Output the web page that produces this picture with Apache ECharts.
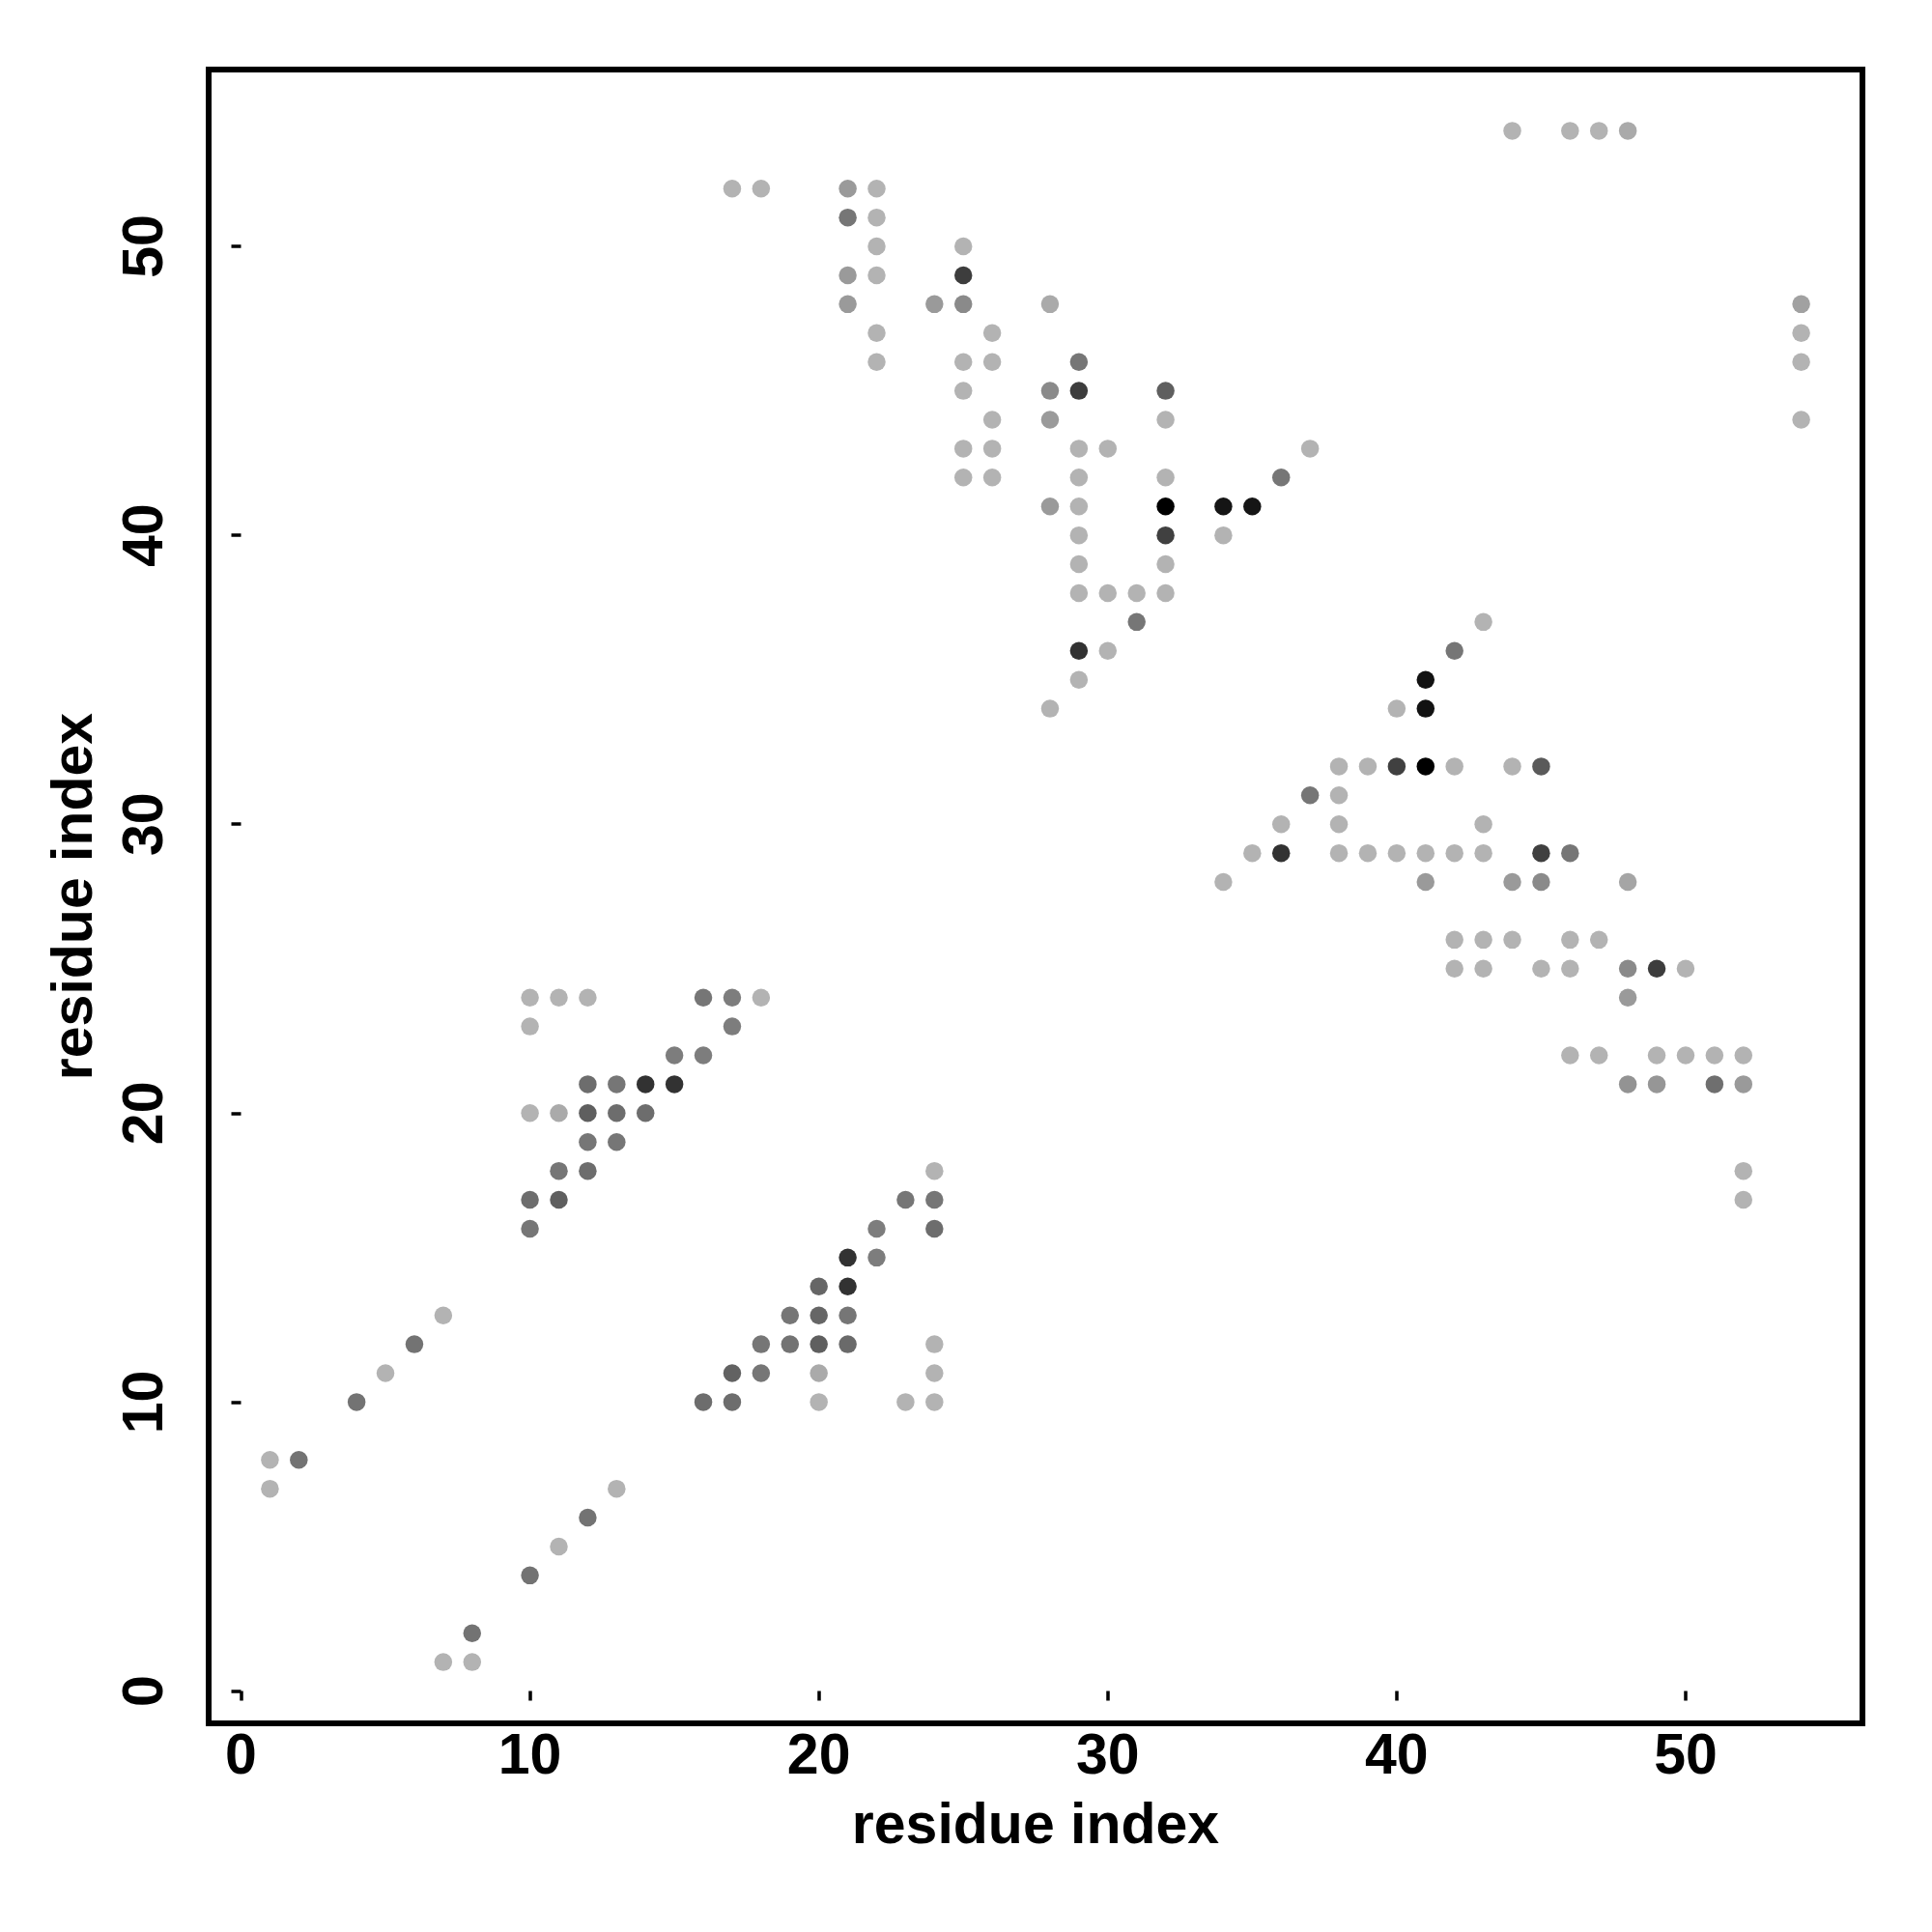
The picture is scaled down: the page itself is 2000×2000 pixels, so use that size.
<!DOCTYPE html>
<html>
<head>
<meta charset="utf-8">
<script src="https://cdn.jsdelivr.net/npm/echarts@6/dist/echarts.min.js"></script>
<style>html,body{margin:0;padding:0;background:#fff}#chart{width:2000px;height:2000px}</style>
</head>
<body>
<div id="chart"></div>
<script>
// residue i (x), residue j (y), contact strength (0 = faint, 1 = strongest)
const residueI = [
  44,46,47,48,
  17,18,21,22,
  21,22,
  22,25,
  21,22,25,
  21,24,25,28,54,
  22,26,54,
  22,25,26,29,54,
  25,28,29,32,
  26,28,32,54,
  25,26,29,30,37,
  25,26,29,32,36,
  28,29,32,34,35,
  29,32,34,
  29,32,
  29,30,31,32,
  31,43,
  29,30,42,
  29,41,
  28,40,41,
  38,39,40,41,42,44,45,
  37,38,
  36,38,43,
  35,36,38,39,40,41,42,43,45,46,
  34,41,44,45,48,
  42,43,44,46,47,
  42,43,45,46,48,49,50,
  10,11,12,16,17,18,48,
  10,17,
  15,16,46,47,49,50,51,52,
  12,13,14,15,48,49,51,52,
  10,11,12,13,14,
  12,13,
  11,12,24,52,
  10,11,23,24,52,
  10,22,24,
  21,22,
  20,21,
  7,19,20,21,
  6,18,19,20,21,24,
  5,17,18,20,24,
  4,16,17,20,23,24,
  1,2,
  1,13,
  12,
  11,
  10,
  8,
  7,8
];
const residueJ = [
  54,54,54,54,
  52,52,52,52,
  51,51,
  50,50,
  49,49,49,
  48,48,48,48,48,
  47,47,47,
  46,46,46,46,46,
  45,45,45,45,
  44,44,44,44,
  43,43,43,43,43,
  42,42,42,42,42,
  41,41,41,41,41,
  40,40,40,
  39,39,
  38,38,38,38,
  37,37,
  36,36,36,
  35,35,
  34,34,34,
  32,32,32,32,32,32,32,
  31,31,
  30,30,30,
  29,29,29,29,29,29,29,29,29,29,
  28,28,28,28,28,
  26,26,26,26,26,
  25,25,25,25,25,25,25,
  24,24,24,24,24,24,24,
  23,23,
  22,22,22,22,22,22,22,22,
  21,21,21,21,21,21,21,21,
  20,20,20,20,20,
  19,19,
  18,18,18,18,
  17,17,17,17,17,
  16,16,16,
  15,15,
  14,14,
  13,13,13,13,
  12,12,12,12,12,12,
  11,11,11,11,11,
  10,10,10,10,10,10,
  8,8,
  7,7,
  6,
  5,
  4,
  2,
  1,1
];
const strength = [
  0,0,0,0.05,
  0,0,0.14,0,
  0.34,0,
  0,0,
  0.14,0,0.66,
  0.14,0.14,0.23,0.05,0.1,
  0,0,0,
  0,0,0,0.34,0,
  0,0.23,0.66,0.47,
  0,0.14,0,0,
  0,0,0,0,0,
  0,0,0,0,0.34,
  0.14,0,1,0.88,0.88,
  0,0.64,0,
  0,0,
  0,0,0,0,
  0.34,0,
  0.72,0,0.34,
  0,0.9,
  0,0,0.9,
  0,0,0.64,1,0,0,0.5,
  0.34,0,
  0,0,0,
  0,0.72,0,0,0,0,0,0,0.64,0.34,
  0,0.14,0.14,0.23,0.08,
  0,0,0,0,0,
  0,0,0,0,0.23,0.66,0,
  0,0,0,0.34,0.3,0,0.14,
  0,0.3,
  0.3,0.3,0,0,0,0,0,0,
  0.39,0.34,0.72,0.72,0.18,0.16,0.38,0.14,
  0,0.05,0.47,0.39,0.39,
  0.34,0.34,
  0.34,0.39,0,0,
  0.39,0.47,0.34,0.34,0,
  0.34,0.3,0.39,
  0.72,0.3,
  0.43,0.72,
  0,0.34,0.43,0.34,
  0.36,0.34,0.36,0.47,0.41,0,
  0,0.45,0.34,0.05,0,
  0.36,0.39,0.39,0,0,0,
  0,0.36,
  0,0,
  0.36,
  0,
  0.36,
  0.36,
  0,0
];
const tickValues = [0, 10, 20, 30, 40, 50];
const axisTitle = 'residue index';

const data = residueI.map((x, k) => [x, residueJ[k], strength[k]]);

const font = 'Liberation Sans, Arial, Helvetica, sans-serif';
const chart = echarts.init(document.getElementById('chart'), null, {renderer: 'canvas', width: 2000, height: 2000});
chart.setOption({
  animation: false,
  backgroundColor: '#ffffff',
  grid: {
    left: 216, top: 72, width: 1712, height: 1712,
    show: true, borderColor: '#000', borderWidth: 6,
    backgroundColor: 'transparent',
    outerBoundsMode: 'none'
  },
  xAxis: {
    type: 'value', min: -1.12, max: 56.12,
    axisLine: {show: false},
    splitLine: {show: false},
    axisTick: {show: true, inside: false, length: 10, customValues: tickValues, lineStyle: {color: '#000', width: 3.5}},
    axisLabel: {customValues: tickValues, fontFamily: font, fontWeight: 'bold', fontSize: 59, color: '#000', margin: 6},
    name: axisTitle, nameLocation: 'middle', nameGap: 78,
    nameTextStyle: {fontFamily: font, fontWeight: 'bold', fontSize: 59, color: '#000'}
  },
  yAxis: {
    type: 'value', min: -1.12, max: 56.12,
    axisLine: {show: false},
    splitLine: {show: false},
    axisTick: {show: true, inside: false, length: 10, customValues: tickValues, lineStyle: {color: '#000', width: 3.5}},
    axisLabel: {customValues: tickValues, rotate: 90, fontFamily: font, fontWeight: 'bold', fontSize: 59, color: '#000', margin: 35},
    name: axisTitle, nameLocation: 'middle', nameGap: 108,
    nameTextStyle: {fontFamily: font, fontWeight: 'bold', fontSize: 59, color: '#000'}
  },
  visualMap: {
    show: false, dimension: 2, min: 0, max: 1,
    inRange: {color: ['#b3b3b3', '#000000']}
  },
  series: [{
    type: 'scatter',
    symbol: 'circle',
    symbolSize: 18.5,
    data: data,
    itemStyle: {opacity: 1}
  }]
});
</script>
</body>
</html>
